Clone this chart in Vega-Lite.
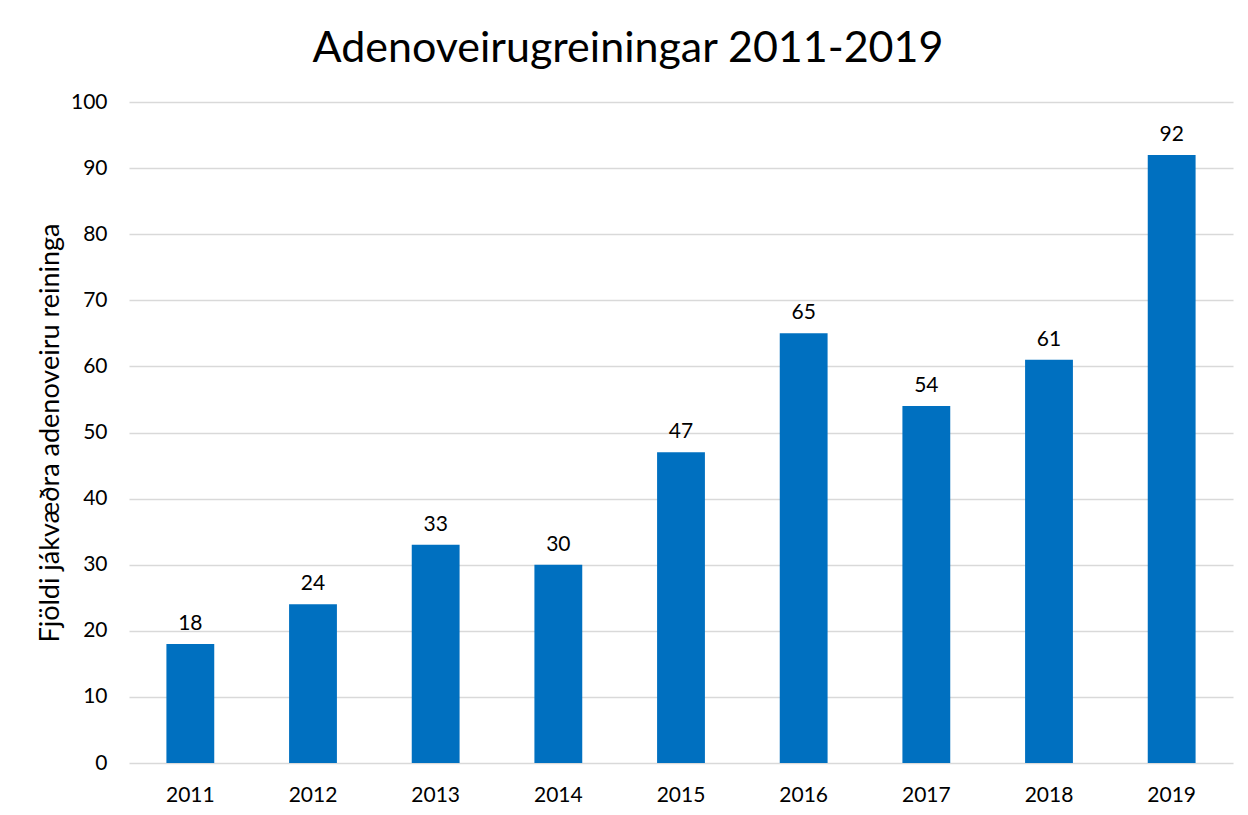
{
  "$schema": "https://vega.github.io/schema/vega-lite/v6.json",
  "autosize": "none",
  "width": 1104,
  "height": 661,
  "padding": {"left": 129, "top": 102, "right": 15, "bottom": 52},
  "background": "white",
  "config": {
    "font": "Lato",
    "view": {"stroke": null}
  },
  "title": {
    "text": "Adenoveirugreiningar  2011-2019",
    "fontSize": 43,
    "fontWeight": "normal",
    "font": "Lato",
    "color": "#000000",
    "anchor": "middle",
    "dx": -53,
    "offset": 20
  },
  "data": {
    "values": [
      {"year": "2011", "count": 18},
      {"year": "2012", "count": 24},
      {"year": "2013", "count": 33},
      {"year": "2014", "count": 30},
      {"year": "2015", "count": 47},
      {"year": "2016", "count": 65},
      {"year": "2017", "count": 54},
      {"year": "2018", "count": 61},
      {"year": "2019", "count": 92}
    ]
  },
  "encoding": {
    "x": {
      "field": "year",
      "type": "nominal",
      "scale": {"paddingInner": 0.61, "paddingOuter": 0.305},
      "axis": {
        "title": null,
        "labelAngle": 0,
        "labelFontSize": 21,
        "labelColor": "#000000",
        "labelPadding": 21,
        "ticks": false,
        "domain": false,
        "grid": false
      }
    },
    "y": {
      "field": "count",
      "type": "quantitative",
      "scale": {"domain": [0, 100], "nice": false},
      "axis": {
        "title": "Fjöldi jákvæðra adenoveiru reininga",
        "titleFontSize": 27,
        "titleFontWeight": "normal",
        "titleColor": "#000000",
        "titlePadding": 6,
        "values": [0, 10, 20, 30, 40, 50, 60, 70, 80, 90, 100],
        "labelOverlap": false,
        "labelFontSize": 21,
        "labelColor": "#000000",
        "labelPadding": 22,
        "ticks": false,
        "domain": false,
        "grid": true,
        "gridColor": "#d9d9d9",
        "gridWidth": 1.5
      }
    }
  },
  "layer": [
    {"mark": {"type": "bar", "color": "#0070C0"}},
    {
      "mark": {"type": "text", "baseline": "bottom", "dy": -10, "fontSize": 21, "color": "#000000"},
      "encoding": {"text": {"field": "count", "type": "quantitative"}}
    }
  ]
}
